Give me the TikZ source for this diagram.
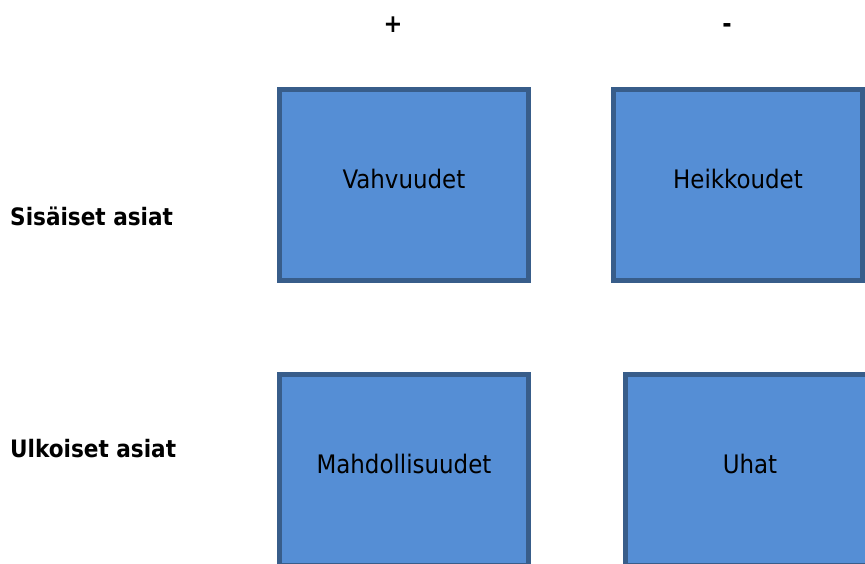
\documentclass[tikz,border=0pt]{standalone}
\usepackage{fontspec}
\setmainfont{DejaVu Sans Condensed}
\definecolor{boxfill}{RGB}{85,142,213}
\definecolor{boxline}{RGB}{56,93,138}

\begin{document}
\begin{tikzpicture}[x=1pt, y=-1pt]
  \tikzset{swot box/.style={rectangle, draw=boxline, fill=boxfill, line width=5pt,
             minimum width=249pt, minimum height=191pt, inner sep=0pt,
             text height=6pt, text depth=0pt, font=\fontsize{25.5}{30}\selectfont},
           side label/.style={anchor=base west, inner sep=0pt, font=\fontsize{24}{29}\selectfont\bfseries},
           sign label/.style={anchor=base, inner sep=0pt, font=\fontsize{25}{30}\selectfont\bfseries}}
  \useasboundingbox (0,0) rectangle (865,563);
  \clip (0,0) rectangle (865,563);
  \node[sign label] (plus) at (393,32) {+};
  \node[sign label] (minus) at (727,32) {-};
  \node[side label] (sisa) at (10,225) {Sisäiset asiat};
  \node[side label] (ulko) at (10,457) {Ulkoiset asiat};
  \node[swot box] (vahv) at (404,185) {Vahvuudet};
  \node[swot box] (heik) at (738,185) {Heikkoudet};
  \node[swot box] (mahd) at (404,470) {Mahdollisuudet};
  \node[swot box] (uhat) at (750,470) {Uhat};
\end{tikzpicture}
\end{document}
